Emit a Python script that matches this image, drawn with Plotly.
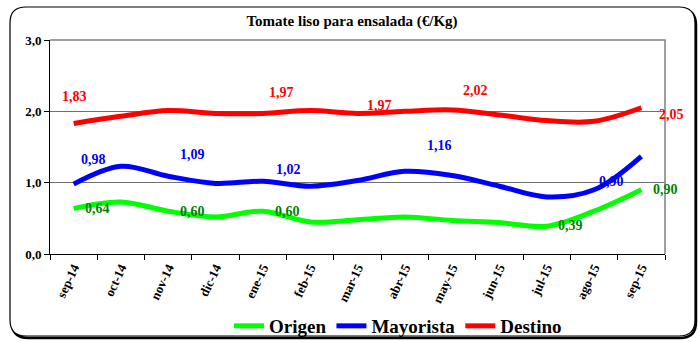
import plotly.graph_objects as go

# Monthly prices (EUR/kg) for smooth tomato along the supply chain
meses = ["sep-14", "oct-14", "nov-14", "dic-14", "ene-15", "feb-15", "mar-15",
         "abr-15", "may-15", "jun-15", "jul-15", "ago-15", "sep-15"]
origen = [0.64, 0.73, 0.60, 0.52, 0.60, 0.45, 0.48, 0.52, 0.47, 0.44, 0.39, 0.60, 0.90]
mayorista = [0.98, 1.23, 1.09, 0.99, 1.02, 0.95, 1.03, 1.16, 1.10, 0.95, 0.80, 0.90, 1.37]
destino = [1.83, 1.93, 2.01, 1.97, 1.97, 2.01, 1.97, 2.00, 2.02, 1.95, 1.87, 1.86, 2.05]

y_ticks = [0, 1, 2, 3]

FONT = "Liberation Serif"
W, H = 698, 342
ML, MR, MT, MB = 50, 33, 40, 88
PW, PH = W - ML - MR, H - MT - MB


def px(x):
    return (x - ML) / PW


def py(y):
    return (H - MB - y) / PH


series = [
    ("Origen", origen, "#00FF00", "#008000"),
    ("Mayorista", mayorista, "#0000FF", "#0000FF"),
    ("Destino", destino, "#FF0000", "#FF0000"),
]

fig = go.Figure()
for name, vals, col, _ in series:
    fig.add_trace(go.Scatter(
        x=meses, y=vals, name=name, mode="lines",
        line=dict(color=col, width=5, shape="spline", smoothing=1.0),
        hoverinfo="skip",
    ))

# value labels: (series index, month index, x shift px, y shift px)
label_spots = [
    (2, 0, 1, 27), (2, 4, 19, 21), (2, 6, 22, 8), (2, 8, 23, 19), (2, 12, 30, -7),
    (1, 0, 20, 25), (1, 2, 24, 22), (1, 4, 26, 12), (1, 7, 35, 26), (1, 11, 17, 8),
    (0, 0, 24, 0), (0, 2, 24, 0), (0, 4, 25, 0), (0, 10, 24, 1), (0, 12, 24, 0),
]
annotations = []
for s, i, dx, dy in label_spots:
    _, vals, _, tcol = series[s]
    annotations.append(dict(
        x=meses[i], y=vals[i], xref="x", yref="y",
        text=f"{vals[i]:.2f}".replace(".", ","), showarrow=False,
        xshift=dx, yshift=dy,
        font=dict(family=FONT, size=14, color=tcol, weight="bold"),
    ))


def rounded_path(x0, y0, x1, y1, r):
    # rounded rectangle in paper coordinates built from pixel corners
    pts = [
        f"M {px(x0 + r)} {py(y0)}",
        f"L {px(x1 - r)} {py(y0)}",
        f"Q {px(x1)} {py(y0)} {px(x1)} {py(y0 + r)}",
        f"L {px(x1)} {py(y1 - r)}",
        f"Q {px(x1)} {py(y1)} {px(x1 - r)} {py(y1)}",
        f"L {px(x0 + r)} {py(y1)}",
        f"Q {px(x0)} {py(y1)} {px(x0)} {py(y1 - r)}",
        f"L {px(x0)} {py(y0 + r)}",
        f"Q {px(x0)} {py(y0)} {px(x0 + r)} {py(y0)}",
        "Z",
    ]
    return " ".join(pts)


shapes = [
    # shadow and frame of the chart area
    dict(type="path", xref="paper", yref="paper", layer="below",
         path=rounded_path(12, 9, 696, 338, 16),
         line=dict(color="#000000", width=2.5)),
    dict(type="path", xref="paper", yref="paper", layer="below",
         path=rounded_path(10, 7, 695, 336, 16),
         fillcolor="white", line=dict(color="#000000", width=1.2)),
    # gray top and right border of the plot area
    dict(type="path", xref="paper", yref="paper", layer="above",
         path="M 0 1 L 1 1 L 1 0",
         line=dict(color="#808080", width=1.5)),
]

fig.update_layout(
    width=W, height=H,
    margin=dict(l=ML, r=MR, t=MT, b=MB, autoexpand=False),
    paper_bgcolor="white",
    plot_bgcolor="rgba(0,0,0,0)",
    separators=",.",
    title=dict(
        text="Tomate liso para ensalada (€/Kg)",
        x=352 / W, xanchor="center", xref="container",
        y=1 - 21 / H, yanchor="middle", yref="container",
        font=dict(family=FONT, size=15, color="black", weight="bold"),
    ),
    xaxis=dict(
        type="category", showgrid=False, showline=True, linecolor="black",
        linewidth=1, ticks="outside", ticklen=5, tickcolor="black",
        tickson="boundaries", tickangle=-65, automargin=False,
        tickfont=dict(family=FONT, size=13, color="black", weight="bold"),
        range=[-0.5, len(meses) - 0.5], fixedrange=True,
    ),
    yaxis=dict(
        range=[0, 3], tickvals=y_ticks, tickformat=".1f", automargin=False,
        showgrid=True, gridcolor="#707070", gridwidth=1,
        showline=True, linecolor="black", linewidth=1,
        ticks="outside", ticklen=5, tickcolor="black", zeroline=False,
        tickfont=dict(family=FONT, size=13, color="black", weight="bold"),
        fixedrange=True,
    ),
    legend=dict(
        orientation="h", x=px(398), xanchor="center", y=py(326), yanchor="middle",
        font=dict(family=FONT, size=19, color="black", weight="bold"),
        bgcolor="rgba(0,0,0,0)", itemwidth=30, tracegroupgap=0,
    ),
    annotations=annotations,
    shapes=shapes,
    showlegend=True,
)

fig.write_html("out.html")
